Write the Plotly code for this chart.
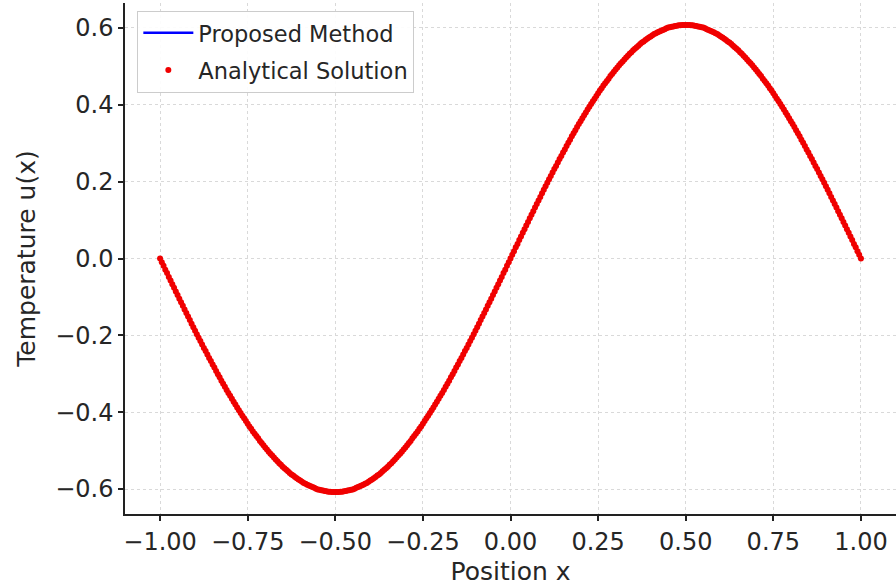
import plotly.graph_objects as go

# Position samples (x)
position = [
    -1.000, -0.995, -0.990, -0.985, -0.980, -0.975, -0.970, -0.965, -0.960, -0.955,
    -0.950, -0.945, -0.940, -0.935, -0.930, -0.925, -0.920, -0.915, -0.910, -0.905,
    -0.900, -0.895, -0.890, -0.885, -0.880, -0.875, -0.870, -0.865, -0.860, -0.855,
    -0.850, -0.845, -0.840, -0.835, -0.830, -0.825, -0.820, -0.815, -0.810, -0.805,
    -0.800, -0.795, -0.790, -0.785, -0.780, -0.775, -0.770, -0.765, -0.760, -0.755,
    -0.750, -0.745, -0.740, -0.735, -0.730, -0.725, -0.720, -0.715, -0.710, -0.705,
    -0.700, -0.695, -0.690, -0.685, -0.680, -0.675, -0.670, -0.665, -0.660, -0.655,
    -0.650, -0.645, -0.640, -0.635, -0.630, -0.625, -0.620, -0.615, -0.610, -0.605,
    -0.600, -0.595, -0.590, -0.585, -0.580, -0.575, -0.570, -0.565, -0.560, -0.555,
    -0.550, -0.545, -0.540, -0.535, -0.530, -0.525, -0.520, -0.515, -0.510, -0.505,
    -0.500, -0.495, -0.490, -0.485, -0.480, -0.475, -0.470, -0.465, -0.460, -0.455,
    -0.450, -0.445, -0.440, -0.435, -0.430, -0.425, -0.420, -0.415, -0.410, -0.405,
    -0.400, -0.395, -0.390, -0.385, -0.380, -0.375, -0.370, -0.365, -0.360, -0.355,
    -0.350, -0.345, -0.340, -0.335, -0.330, -0.325, -0.320, -0.315, -0.310, -0.305,
    -0.300, -0.295, -0.290, -0.285, -0.280, -0.275, -0.270, -0.265, -0.260, -0.255,
    -0.250, -0.245, -0.240, -0.235, -0.230, -0.225, -0.220, -0.215, -0.210, -0.205,
    -0.200, -0.195, -0.190, -0.185, -0.180, -0.175, -0.170, -0.165, -0.160, -0.155,
    -0.150, -0.145, -0.140, -0.135, -0.130, -0.125, -0.120, -0.115, -0.110, -0.105,
    -0.100, -0.095, -0.090, -0.085, -0.080, -0.075, -0.070, -0.065, -0.060, -0.055,
    -0.050, -0.045, -0.040, -0.035, -0.030, -0.025, -0.020, -0.015, -0.010, -0.005,
    0.000, 0.005, 0.010, 0.015, 0.020, 0.025, 0.030, 0.035, 0.040, 0.045,
    0.050, 0.055, 0.060, 0.065, 0.070, 0.075, 0.080, 0.085, 0.090, 0.095,
    0.100, 0.105, 0.110, 0.115, 0.120, 0.125, 0.130, 0.135, 0.140, 0.145,
    0.150, 0.155, 0.160, 0.165, 0.170, 0.175, 0.180, 0.185, 0.190, 0.195,
    0.200, 0.205, 0.210, 0.215, 0.220, 0.225, 0.230, 0.235, 0.240, 0.245,
    0.250, 0.255, 0.260, 0.265, 0.270, 0.275, 0.280, 0.285, 0.290, 0.295,
    0.300, 0.305, 0.310, 0.315, 0.320, 0.325, 0.330, 0.335, 0.340, 0.345,
    0.350, 0.355, 0.360, 0.365, 0.370, 0.375, 0.380, 0.385, 0.390, 0.395,
    0.400, 0.405, 0.410, 0.415, 0.420, 0.425, 0.430, 0.435, 0.440, 0.445,
    0.450, 0.455, 0.460, 0.465, 0.470, 0.475, 0.480, 0.485, 0.490, 0.495,
    0.500, 0.505, 0.510, 0.515, 0.520, 0.525, 0.530, 0.535, 0.540, 0.545,
    0.550, 0.555, 0.560, 0.565, 0.570, 0.575, 0.580, 0.585, 0.590, 0.595,
    0.600, 0.605, 0.610, 0.615, 0.620, 0.625, 0.630, 0.635, 0.640, 0.645,
    0.650, 0.655, 0.660, 0.665, 0.670, 0.675, 0.680, 0.685, 0.690, 0.695,
    0.700, 0.705, 0.710, 0.715, 0.720, 0.725, 0.730, 0.735, 0.740, 0.745,
    0.750, 0.755, 0.760, 0.765, 0.770, 0.775, 0.780, 0.785, 0.790, 0.795,
    0.800, 0.805, 0.810, 0.815, 0.820, 0.825, 0.830, 0.835, 0.840, 0.845,
    0.850, 0.855, 0.860, 0.865, 0.870, 0.875, 0.880, 0.885, 0.890, 0.895,
    0.900, 0.905, 0.910, 0.915, 0.920, 0.925, 0.930, 0.935, 0.940, 0.945,
    0.950, 0.955, 0.960, 0.965, 0.970, 0.975, 0.980, 0.985, 0.990, 0.995,
    1.000,
]

# Temperature u(x) (analytical solution dots)
analytical = [
    0.000, -0.010, -0.019, -0.029, -0.038, -0.048, -0.057, -0.067, -0.076, -0.086,
    -0.095, -0.105, -0.114, -0.123, -0.133, -0.142, -0.151, -0.160, -0.170, -0.179,
    -0.188, -0.197, -0.206, -0.215, -0.224, -0.233, -0.241, -0.250, -0.259, -0.267,
    -0.276, -0.284, -0.293, -0.301, -0.309, -0.318, -0.326, -0.334, -0.342, -0.350,
    -0.357, -0.365, -0.373, -0.380, -0.388, -0.395, -0.402, -0.409, -0.416, -0.423,
    -0.430, -0.437, -0.443, -0.450, -0.456, -0.462, -0.468, -0.475, -0.480, -0.486,
    -0.492, -0.497, -0.503, -0.508, -0.513, -0.518, -0.523, -0.528, -0.533, -0.537,
    -0.542, -0.546, -0.550, -0.554, -0.558, -0.562, -0.565, -0.569, -0.572, -0.575,
    -0.578, -0.581, -0.584, -0.586, -0.589, -0.591, -0.593, -0.595, -0.597, -0.599,
    -0.601, -0.602, -0.603, -0.604, -0.605, -0.606, -0.607, -0.607, -0.608, -0.608,
    -0.608, -0.608, -0.608, -0.607, -0.607, -0.606, -0.605, -0.604, -0.603, -0.602,
    -0.601, -0.599, -0.597, -0.595, -0.593, -0.591, -0.589, -0.586, -0.584, -0.581,
    -0.578, -0.575, -0.572, -0.569, -0.565, -0.562, -0.558, -0.554, -0.550, -0.546,
    -0.542, -0.537, -0.533, -0.528, -0.523, -0.518, -0.513, -0.508, -0.503, -0.497,
    -0.492, -0.486, -0.480, -0.475, -0.468, -0.462, -0.456, -0.450, -0.443, -0.437,
    -0.430, -0.423, -0.416, -0.409, -0.402, -0.395, -0.388, -0.380, -0.373, -0.365,
    -0.357, -0.350, -0.342, -0.334, -0.326, -0.318, -0.309, -0.301, -0.293, -0.284,
    -0.276, -0.267, -0.259, -0.250, -0.241, -0.233, -0.224, -0.215, -0.206, -0.197,
    -0.188, -0.179, -0.170, -0.160, -0.151, -0.142, -0.133, -0.123, -0.114, -0.105,
    -0.095, -0.086, -0.076, -0.067, -0.057, -0.048, -0.038, -0.029, -0.019, -0.010,
    0.000, 0.010, 0.019, 0.029, 0.038, 0.048, 0.057, 0.067, 0.076, 0.086,
    0.095, 0.105, 0.114, 0.123, 0.133, 0.142, 0.151, 0.160, 0.170, 0.179,
    0.188, 0.197, 0.206, 0.215, 0.224, 0.233, 0.241, 0.250, 0.259, 0.267,
    0.276, 0.284, 0.293, 0.301, 0.309, 0.318, 0.326, 0.334, 0.342, 0.350,
    0.357, 0.365, 0.373, 0.380, 0.388, 0.395, 0.402, 0.409, 0.416, 0.423,
    0.430, 0.437, 0.443, 0.450, 0.456, 0.462, 0.468, 0.475, 0.480, 0.486,
    0.492, 0.497, 0.503, 0.508, 0.513, 0.518, 0.523, 0.528, 0.533, 0.537,
    0.542, 0.546, 0.550, 0.554, 0.558, 0.562, 0.565, 0.569, 0.572, 0.575,
    0.578, 0.581, 0.584, 0.586, 0.589, 0.591, 0.593, 0.595, 0.597, 0.599,
    0.601, 0.602, 0.603, 0.604, 0.605, 0.606, 0.607, 0.607, 0.608, 0.608,
    0.608, 0.608, 0.608, 0.607, 0.607, 0.606, 0.605, 0.604, 0.603, 0.602,
    0.601, 0.599, 0.597, 0.595, 0.593, 0.591, 0.589, 0.586, 0.584, 0.581,
    0.578, 0.575, 0.572, 0.569, 0.565, 0.562, 0.558, 0.554, 0.550, 0.546,
    0.542, 0.537, 0.533, 0.528, 0.523, 0.518, 0.513, 0.508, 0.503, 0.497,
    0.492, 0.486, 0.480, 0.475, 0.468, 0.462, 0.456, 0.450, 0.443, 0.437,
    0.430, 0.423, 0.416, 0.409, 0.402, 0.395, 0.388, 0.380, 0.373, 0.365,
    0.357, 0.350, 0.342, 0.334, 0.326, 0.318, 0.309, 0.301, 0.293, 0.284,
    0.276, 0.267, 0.259, 0.250, 0.241, 0.233, 0.224, 0.215, 0.206, 0.197,
    0.188, 0.179, 0.170, 0.160, 0.151, 0.142, 0.133, 0.123, 0.114, 0.105,
    0.095, 0.086, 0.076, 0.067, 0.057, 0.048, 0.038, 0.029, 0.019, 0.010,
    0.000,
]

# Proposed method overlaps the analytical solution (hidden under the dots)
proposed = list(analytical)

x_tick_vals = [-1.0, -0.75, -0.5, -0.25, 0.0, 0.25, 0.5, 0.75, 1.0]
x_tick_text = ["\u22121.00", "\u22120.75", "\u22120.50", "\u22120.25", "0.00",
               "0.25", "0.50", "0.75", "1.00"]
y_tick_vals = [-0.6, -0.4, -0.2, 0.0, 0.2, 0.4, 0.6]
y_tick_text = ["\u22120.6", "\u22120.4", "\u22120.2", "0.0", "0.2", "0.4", "0.6"]

FONT = "DejaVu Sans"
TXT = "#262626"

fig = go.Figure()
fig.add_trace(go.Scatter(
    x=position, y=proposed, mode="lines", name="Proposed Method",
    line=dict(color="#0000ff", width=2.5), legendgroup="a",
))
fig.add_trace(go.Scatter(
    x=position, y=analytical, mode="markers", name="Analytical Solution",
    marker=dict(color="#f00000", size=6, line=dict(width=0)), legendgroup="b",
))

axis_common = dict(
    showline=True, linecolor="#222222", linewidth=1.5, mirror=False,
    ticks="outside", ticklen=5, tickwidth=1.5, tickcolor="#222222",
    showgrid=True, gridcolor="#d9d9d9", griddash="3px,3px", gridwidth=1,
    zeroline=False, tickfont=dict(family=FONT, size=24, color=TXT),
    automargin=False,
)

fig.update_layout(
    width=896, height=587,
    margin=dict(l=125, r=0, t=3, b=73),
    paper_bgcolor="white", plot_bgcolor="white",
    font=dict(family=FONT, color=TXT),
    showlegend=True,
    legend=dict(
        x=0.016, y=0.985, xanchor="left", yanchor="top",
        bgcolor="rgba(255,255,255,0.9)", bordercolor="#cccccc", borderwidth=1,
        font=dict(family=FONT, size=22.5, color=TXT),
        tracegroupgap=5, itemwidth=50,
    ),
    xaxis=dict(
        range=[-1.1, 1.1], tickvals=x_tick_vals, ticktext=x_tick_text,
        title=dict(text="Position x", font=dict(family=FONT, size=25, color=TXT), standoff=8),
        **axis_common,
    ),
    yaxis=dict(
        range=[-0.665, 0.665], tickvals=y_tick_vals, ticktext=y_tick_text,
        title=dict(text="Temperature u(x)", font=dict(family=FONT, size=25, color=TXT), standoff=12),
        **axis_common,
    ),
)

fig.write_html("out.html", config={"displayModeBar": False},
               post_script="document.body.style.margin='0';")
